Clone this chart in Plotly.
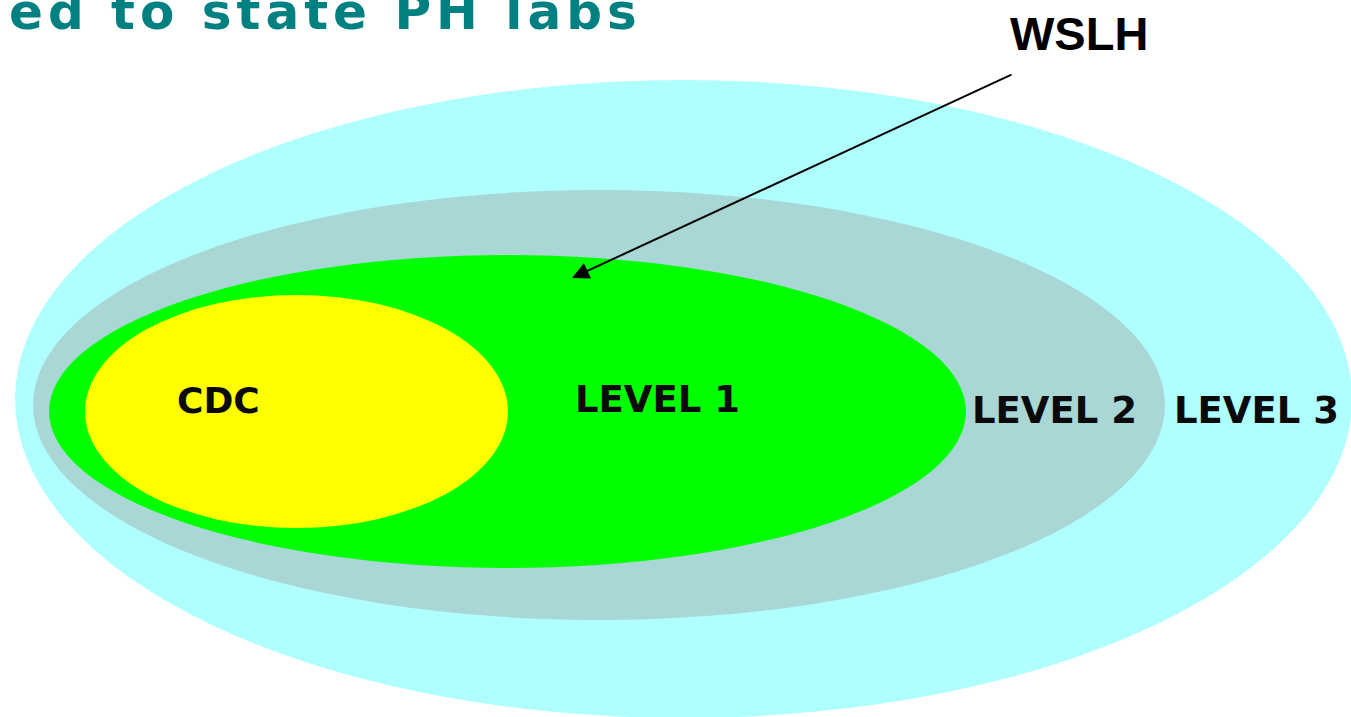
import plotly.graph_objects as go

# Diagram data (canvas pixel units, y measured downward)
levels = ["LEVEL 3", "LEVEL 2", "LEVEL 1", "CDC"]
ellipse_x0 = [15, 33, 49, 85]
ellipse_x1 = [1352, 1165, 966, 508]
ellipse_y0 = [80, 190, 255, 295]
ellipse_y1 = [718, 620, 568, 528]
fill_colors = ["#afffff", "#a9d7d6", "#00ff00", "#ffff00"]

label_x = [1256, 1054, 657, 218]
label_y = [410, 410, 399, 400]
label_size = [37, 37, 37, 36]

title_text = "ed to state PH labs"
callout_text = "WSLH"
arrow_tail = (1013, 74)
arrow_head = (572, 278)

W, H = 1351, 717

fig = go.Figure()
# invisible trace to establish axes
fig.add_trace(go.Scatter(x=[0, W], y=[0, H], mode="markers",
                         marker=dict(opacity=0), hoverinfo="skip", showlegend=False))

shapes = []
for x0, x1, y0, y1, c in zip(ellipse_x0, ellipse_x1, ellipse_y0, ellipse_y1, fill_colors):
    shapes.append(dict(type="circle", xref="x", yref="y", x0=x0, x1=x1, y0=y0, y1=y1,
                       fillcolor=c, line=dict(width=0), layer="below"))

annotations = []
for name, x, y, s in zip(levels, label_x, label_y, label_size):
    annotations.append(dict(x=x, y=y, xref="x", yref="y", text=name, showarrow=False,
                            xanchor="center", yanchor="middle",
                            font=dict(family="DejaVu Sans", size=s, color="#0a0a0a", weight="bold")))

annotations.append(dict(x=644, y=12, xref="x", yref="y",
                        text="<span style='letter-spacing:5px'><b>" + title_text + "</b></span>",
                        showarrow=False, xanchor="right", yanchor="middle",
                        font=dict(family="DejaVu Sans", size=50, color="#008080")))

annotations.append(dict(x=1079, y=33, xref="x", yref="y", text="<b>" + callout_text + "</b>",
                        showarrow=False, xanchor="center", yanchor="middle",
                        font=dict(family="Liberation Sans, Arial", size=47, color="#000000")))

annotations.append(dict(x=arrow_head[0], y=arrow_head[1], ax=arrow_tail[0], ay=arrow_tail[1],
                        xref="x", yref="y", axref="x", ayref="y", text="",
                        showarrow=True, arrowhead=2, arrowsize=1.7, arrowwidth=2,
                        arrowcolor="#000000"))

fig.update_layout(
    width=W, height=H,
    margin=dict(l=0, r=0, t=0, b=0),
    paper_bgcolor="white", plot_bgcolor="white",
    xaxis=dict(range=[0, W], visible=False, fixedrange=True),
    yaxis=dict(range=[H, 0], visible=False, fixedrange=True),
    shapes=shapes, annotations=annotations, showlegend=False,
)

fig.write_html("out.html", config={"displayModeBar": False},
               post_script="document.body.style.margin='0';document.body.style.overflow='hidden';")
